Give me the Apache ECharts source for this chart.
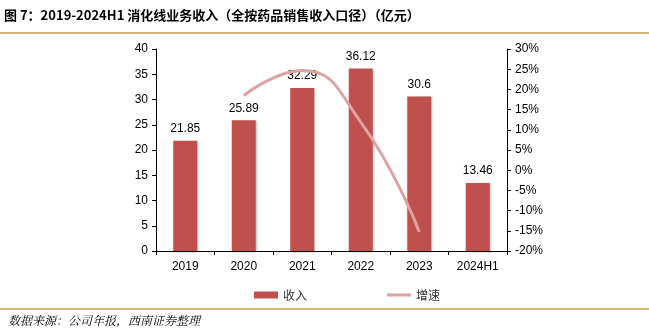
<!DOCTYPE html>
<html><head><meta charset="utf-8">
<script src="https://cdn.jsdelivr.net/npm/echarts@6/dist/echarts.min.js"></script>
<style>html,body{margin:0;padding:0;background:#fff}#c{width:649px;height:329px}</style>
</head><body><div id="c"></div>
<script>
var categories = ['2019','2020','2021','2022','2023','2024H1'];
var revenue = [21.85, 25.89, 32.29, 36.12, 30.6, 13.46];
var growth = [null, 18.5, 24.7, 11.9, -15.3, null];
var leftTicks = [0,5,10,15,20,25,30,35,40];
var rightTicks = ['-20%','-15%','-10%','-5%','0%','5%','10%','15%','20%','25%','30%'];

var chart = echarts.init(document.getElementById('c'), null, {renderer:'canvas'});
var font = 'Liberation Sans, Arial, sans-serif';
chart.setOption({
  animation:false,
  grid:{left:156, right:142, top:49, bottom:78},
  graphic:[
    {type:'text', left:4, top:9, style:{text:'图 7：2019-2024H1 消化线业务收入（全按药品销售收入口径）（亿元）', font:'bold 13px "Noto Sans CJK SC", Liberation Sans, sans-serif', fill:'#000'}},
    {type:'line', shape:{x1:0,y1:33,x2:649,y2:33}, style:{stroke:'#C89B5E', lineWidth:1.5}},
    {type:'line', shape:{x1:0,y1:309,x2:649,y2:309}, style:{stroke:'#C89B5E', lineWidth:1.5}},
    {type:'text', left:8, top:314, style:{text:'数据来源：公司年报，西南证券整理', font:'italic 12px "Noto Serif CJK SC", "Noto Sans CJK SC", serif', fill:'#000'}}
  ],
  legend:{left:249, top:284, itemGap:80, itemWidth:24, itemHeight:7,
    textStyle:{fontSize:12, color:'#333', fontFamily:'"Noto Sans CJK SC", sans-serif'},
    data:[{name:'收入', icon:'rect'},
          {name:'增速', icon:'path://M0,0L0.01,0L0.01,7L0,7ZM0,2L24,2L24,5L0,5Z', itemStyle:{color:'#DDA3A3', borderWidth:0}}]},
  xAxis:{type:'category', data:categories,
    axisLine:{lineStyle:{color:'#000', width:1}},
    axisTick:{show:true, alignWithLabel:false, length:4, lineStyle:{color:'#000'}},
    axisLabel:{color:'#000', fontSize:12, fontFamily:font, margin:10}},
  yAxis:[
    {type:'value', min:0, max:40, interval:5, splitLine:{show:false},
     axisLine:{show:true, lineStyle:{color:'#000'}},
     axisTick:{show:true, length:4, lineStyle:{color:'#000'}},
     axisLabel:{color:'#000', fontSize:12, fontFamily:font, margin:8}},
    {type:'value', min:-20, max:30, interval:5, splitLine:{show:false},
     axisLine:{show:true, lineStyle:{color:'#000'}},
     axisTick:{show:true, length:4, lineStyle:{color:'#000'}},
     axisLabel:{color:'#000', fontSize:12, fontFamily:font, margin:8, formatter:'{value}%'}}
  ],
  series:[
    {name:'收入', type:'bar', data:revenue, barWidth:24,
     itemStyle:{color:'#C0504D', shadowColor:'rgba(0,0,0,0.25)', shadowBlur:2, shadowOffsetX:1, shadowOffsetY:1},
     label:{show:true, position:'top', color:'#000', fontSize:12, fontFamily:font, distance:6}},
    {name:'增速', type:'line', yAxisIndex:1, data:growth, smooth:true, showSymbol:false, symbol:'none',
     lineStyle:{color:'#DDA3A3', width:3}, itemStyle:{color:'#DDA3A3'}, z:3}
  ]
});
</script></body></html>
